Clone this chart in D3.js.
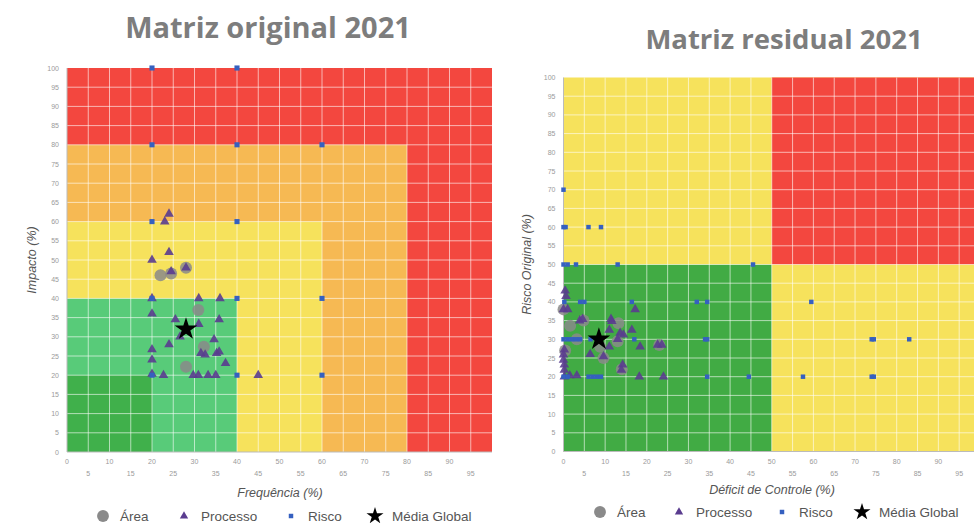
<!DOCTYPE html>
<html>
<head>
<meta charset="utf-8">
<title>Matriz original / residual 2021</title>
<script src="https://d3js.org/d3.v7.min.js"></script>
<style>
  body { margin: 0; background: #fff; font-family: "Open Sans", "Liberation Sans", sans-serif; }
  .tick-label { font-family: "Liberation Sans", Arial, sans-serif; font-size: 7px; fill: #9a9a9a; }
  .axis-title { font-family: "Liberation Sans", Arial, sans-serif; font-size: 12.5px; font-style: italic; fill: #555; }
  .legend text { font-family: "Liberation Sans", Arial, sans-serif; font-size: 13.5px; fill: #555; }
  .title { font-family: "Open Sans", sans-serif; font-weight: 700; fill: #7d7d7d; }
</style>
</head>
<body>
<script>
// ---- data ----
var tickValues = [0, 5, 10, 15, 20, 25, 30, 35, 40, 45, 50, 55, 60, 65, 70, 75, 80, 85, 90, 95, 100];
var legendLabels = ["Área", "Processo", "Risco", "Média Global"];

// zones: [xMax, yMax, level] painted in order (level -> colour below)
var origZones = [[100, 100, "red"], [80, 80, "orange"], [60, 60, "yellow"], [40, 40, "green"], [20, 20, "darkgreen"]];
var resZones = [[100, 100, "yellow"], [50, 50, "green2"]];
var resRedZone = [[50, 100, 50, 100]]; // x0, x1, y0, y1

// Matriz original: [Frequência, Impacto]
var origRisco = [[20, 100], [40, 100], [20, 80], [40, 80], [60, 80], [20, 60], [40, 60],
  [20, 40], [40, 40], [60, 40], [20, 20], [40, 20], [60, 20]];
var origProcesso = [[24, 62], [23, 60], [24, 52], [20, 50], [24.5, 47], [28, 48], [20, 40], [31, 40], [36, 40],
  [20, 36], [25.5, 34.5], [31, 33.3], [35.8, 34.5], [26.6, 30], [24, 28], [34.6, 29.3], [20, 26.7], [20, 24],
  [31.5, 25.7], [32.5, 25.3], [35.2, 25.7], [35.8, 26.1], [37.3, 23.1], [20, 20.3], [22.7, 20], [29.7, 20],
  [30.9, 20], [33.2, 20], [35, 20], [45, 20]];
var origArea = [[22, 46], [24.5, 46.5], [28, 48], [30.9, 37], [32.2, 27.4], [28, 22.2]];
var origMedia = [[28, 32]];

// Matriz residual: [Déficit de Controle, Risco Original]
var resRisco = [[0, 70], [0, 60], [0.5, 60], [6, 60], [9, 60], [0, 50], [1, 50], [3, 50], [13, 50], [45.5, 50],
  [0.2, 40], [4, 40], [5, 40], [16.4, 40], [32, 40], [34.5, 40], [59.5, 40],
  [0, 30], [1, 30], [2, 30], [3, 30], [4, 30], [6.5, 30], [17, 30], [34, 30], [34.5, 30], [74, 30], [74.5, 30], [83, 30],
  [0, 20], [1, 20], [6, 20], [7, 20], [8, 20], [9, 20], [34.5, 20], [44.5, 20], [57.5, 20], [74, 20], [74.5, 20]];
var resProcesso = [[0.4, 43], [0.6, 41.5], [0, 38], [1, 38], [3.9, 35], [4.6, 35.4], [11.4, 35.4], [11.6, 34.8],
  [16.4, 32.5], [11, 32.5], [13.6, 31.7], [14.4, 31.2], [13, 30], [17.2, 38], [11, 28], [18.4, 28], [22.6, 28.5],
  [23.6, 28.5], [6.4, 26], [9.6, 25.4], [0.2, 27.2], [0, 25.9], [0, 24.5], [0.2, 23.2], [0.2, 21.8],
  [14.2, 23.2], [13.9, 21.8], [0.2, 20], [1.5, 20.3], [3.2, 20.3], [18.2, 20], [24, 20]];
var resArea = [[0, 38], [1.6, 33.6], [4.8, 35], [13.2, 34.3], [0.4, 27], [9.6, 25], [8.8, 28], [23, 28.5],
  [14, 22], [3.2, 30], [13, 29.5]];
var resMedia = [[8.5, 30]];

// ---- styles ----
var zoneColor = { red: "#f3473f", orange: "#f6b953", yellow: "#f6e25c", green: "#58cb79", darkgreen: "#40b04b", green2: "#41ab44" };

var svg = d3.select("body").append("svg")
    .attr("width", 974)
    .attr("height", 523);

function panel(opt) {
  var g = svg.append("g");
  var clipId = opt.id + "-clip";
  svg.append("clipPath").attr("id", clipId)
    .append("rect").attr("x", opt.clip[0]).attr("y", 0).attr("width", opt.clip[1] - opt.clip[0]).attr("height", 523);
  g.attr("clip-path", "url(#" + clipId + ")");

  var x = d3.scaleLinear().domain([0, 100]).range(opt.xr);
  var y = d3.scaleLinear().domain([0, 100]).range(opt.yr);

  g.append("text").attr("class", "title")
    .attr("x", opt.titleX).attr("y", opt.titleY).style("font-size", opt.titleSize + "px")
    .attr("text-anchor", "middle").text(opt.title);

  // zones
  g.selectAll(".zone").data(opt.zones).join("rect")
    .attr("x", x(0)).attr("y", function (d) { return y(d[1]); })
    .attr("width", function (d) { return x(d[0]) - x(0); })
    .attr("height", function (d) { return y(0) - y(d[1]); })
    .attr("fill", function (d) { return zoneColor[d[2]]; });
  if (opt.extraRed) {
    g.selectAll(".zr").data(opt.extraRed).join("rect")
      .attr("x", function (d) { return x(d[0]); })
      .attr("y", function (d) { return y(d[3]); })
      .attr("width", function (d) { return x(d[1]) - x(d[0]); })
      .attr("height", function (d) { return y(d[2]) - y(d[3]); })
      .attr("fill", zoneColor.red);
  }

  // grid
  var grid = g.append("g").attr("stroke", "#fff").attr("stroke-opacity", 0.6).attr("stroke-width", 1);
  grid.selectAll(".v").data(tickValues.slice(1, -1)).join("line")
    .attr("x1", function (d) { return x(d); }).attr("x2", function (d) { return x(d); })
    .attr("y1", y(0)).attr("y2", y(100));
  grid.selectAll(".h").data(tickValues.slice(1, -1)).join("line")
    .attr("y1", function (d) { return y(d); }).attr("y2", function (d) { return y(d); })
    .attr("x1", x(0)).attr("x2", x(100));

  g.append("line").attr("x1", x(0)).attr("x2", x(0)).attr("y1", y(0)).attr("y2", y(100))
    .attr("stroke", "#bbb").attr("stroke-width", 1);
  g.append("line").attr("x1", x(0)).attr("x2", x(100)).attr("y1", y(0)).attr("y2", y(0))
    .attr("stroke", "#bbb").attr("stroke-width", 1);

  // tick labels (the right panel is cropped, so keep its labels inside the picture)
  g.selectAll(".yt").data(tickValues).join("text").attr("class", "tick-label")
    .attr("x", x(0) - 8).attr("y", function (d) { return y(d) + 2.5; })
    .attr("text-anchor", "end").text(function (d) { return d; });
  g.selectAll(".xt").data(tickValues.filter(function (d) { return x(d) < opt.clip[1] - 6; })).join("text")
    .attr("class", "tick-label")
    .attr("x", function (d) { return x(d); })
    .attr("y", function (d) { return y(0) + (d % 10 ? 24 : 12); })
    .attr("text-anchor", "middle").text(function (d) { return d; });

  // axis titles
  g.append("text").attr("class", "axis-title")
    .attr("x", opt.xTitleX).attr("y", opt.xTitleY).attr("text-anchor", "middle").text(opt.xTitle);
  g.append("text").attr("class", "axis-title")
    .attr("transform", "translate(" + opt.yTitleX + "," + (y(0) + y(100)) / 2 + ") rotate(-90)")
    .attr("text-anchor", "middle").text(opt.yTitle);

  // markers
  g.selectAll(".area").data(opt.area).join("circle")
    .attr("cx", function (d) { return x(d[0]); }).attr("cy", function (d) { return y(d[1]); })
    .attr("r", 6).attr("fill", "#8a8a8a").attr("fill-opacity", 0.85);
  g.selectAll(".proc").data(opt.processo).join("path")
    .attr("transform", function (d) { return "translate(" + x(d[0]) + "," + y(d[1]) + ")"; })
    .attr("d", d3.symbol(d3.symbolTriangle, 40)).attr("fill", "#5a3c8f").attr("fill-opacity", 0.9);
  g.selectAll(".risco").data(opt.risco).join("path")
    .attr("transform", function (d) { return "translate(" + x(d[0]) + "," + y(d[1]) + ")"; })
    .attr("d", d3.symbol(d3.symbolSquare, opt.sq)).attr("fill", "#3560c0");
  g.selectAll(".media").data(opt.media).join("path")
    .attr("transform", function (d) { return "translate(" + x(d[0]) + "," + y(d[1]) + ")"; })
    .attr("d", d3.symbol(d3.symbolStar, 160)).attr("fill", "#000");

  // legend
  var lg = g.append("g").attr("class", "legend");
  var syms = [d3.symbol(d3.symbolCircle, 110)(), d3.symbol(d3.symbolTriangle, 30)(),
    d3.symbol(d3.symbolSquare, 20)(), d3.symbol(d3.symbolStar, 90)()];
  var symFill = ["#8a8a8a", "#5a3c8f", "#3560c0", "#000"];
  legendLabels.forEach(function (lab, i) {
    lg.append("path").attr("d", syms[i]).attr("fill", symFill[i])
      .attr("transform", "translate(" + opt.legendX[i] + "," + opt.legendY + ")");
    lg.append("text").attr("x", opt.legendX[i] + 17).attr("y", opt.legendY + 5).text(lab);
  });
}

panel({
  id: "orig", title: "Matriz original 2021", titleX: 268, titleY: 38, titleSize: 29,
  xr: [67, 492], yr: [452, 68], clip: [0, 495],
  zones: origZones, sq: 26,
  risco: origRisco, processo: origProcesso, area: origArea, media: origMedia,
  xTitle: "Frequência (%)", xTitleX: 280, xTitleY: 497,
  yTitle: "Impacto (%)", yTitleX: 36,
  legendX: [103, 184, 291, 375], legendY: 516
});

panel({
  id: "res", title: "Matriz residual 2021", titleX: 784, titleY: 49, titleSize: 27.5,
  xr: [563.5, 980], yr: [451.5, 77.5], clip: [505, 974],
  zones: resZones, extraRed: resRedZone, sq: 20,
  risco: resRisco, processo: resProcesso, area: resArea, media: resMedia,
  xTitle: "Déficit de Controle (%)", xTitleX: 772, xTitleY: 494,
  yTitle: "Risco Original (%)", yTitleX: 531,
  legendX: [600, 679, 782, 862], legendY: 512
});
</script>
</body>
</html>
